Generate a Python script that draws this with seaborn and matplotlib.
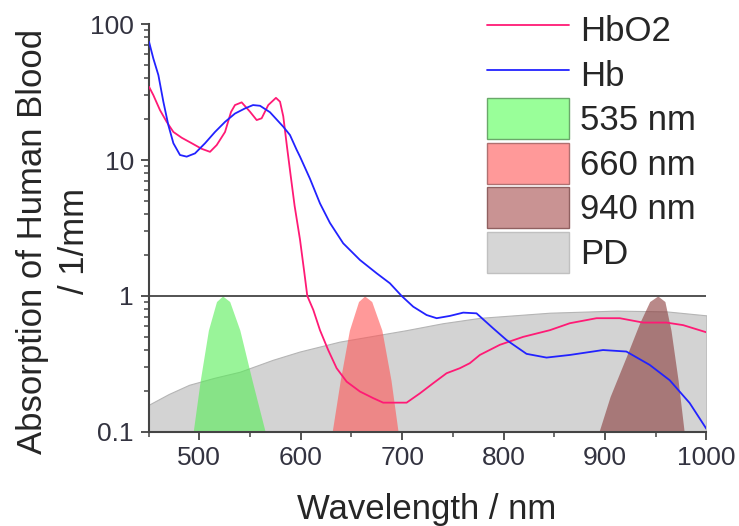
import numpy as np
import matplotlib
matplotlib.use("Agg")
import matplotlib.pyplot as plt
import seaborn as sns
from matplotlib.patches import Patch
from matplotlib.lines import Line2D
from matplotlib.ticker import LogLocator, FixedLocator, NullFormatter

# absorption of oxygenated haemoglobin (1/mm)
hbo2_nm = [450.5, 454.7, 461.3, 467.9, 474.5, 482.7, 492.6, 502.4, 510.6, 517.2,
           525.4, 531.3, 535.2, 541.8, 550, 556.6, 561.5, 568, 575.6, 579.6,
           582.8, 586.5, 590, 594, 599.3, 603.5, 606.5, 612.4, 619, 627.1,
           635.4, 645.3, 658.4, 671.5, 681.3, 704.4, 717.5, 730.6, 743.8, 756.9,
           766.7, 776.6, 796.3, 819.3, 845.6, 865.3, 891.6, 914.5, 937.5, 960.5,
           977, 1000]
hbo2_val = [34.6, 30.1, 23.3, 19.1, 16.1, 14.6, 13.3, 12.1, 11.5, 12.9,
            16.1, 22.6, 25.4, 26.6, 22.7, 19.7, 20.3, 25.4, 28.7, 26.9,
            21, 12.5, 7.8, 4.6, 2.6, 1.5, 1.0, 0.79, 0.56, 0.40,
            0.294, 0.234, 0.198, 0.177, 0.164, 0.164, 0.192, 0.228, 0.27, 0.294,
            0.32, 0.368, 0.437, 0.5, 0.56, 0.63, 0.686, 0.686, 0.637, 0.637,
            0.61, 0.54]

# absorption of deoxygenated haemoglobin (1/mm)
hb_nm = [450.5, 454.7, 459.7, 464.6, 469.5, 474.5, 481, 487.6, 495.8, 505.7,
         515.5, 525.4, 535.2, 545.1, 553, 559.9, 569.7, 582.8, 589.4, 596,
         599.3, 609.1, 619, 628.8, 641.9, 658.4, 674.8, 687.9, 699.5, 710.9,
         724.1, 734, 747, 760.2, 773.3, 789.7, 802.9, 822.6, 842.3, 865.3,
         898, 921, 944, 963.7, 983.4, 1000]
hb_val = [74.1, 56, 42.2, 26.9, 18.1, 13.3, 10.9, 10.6, 11.2, 13.3,
          16.1, 19.1, 22.0, 24, 25.4, 25.1, 22.5, 17.6, 15.3, 11.9,
          10.6, 7.3, 4.8, 3.45, 2.44, 1.84, 1.47, 1.24, 1.0, 0.834,
          0.724, 0.686, 0.713, 0.754, 0.745, 0.578, 0.474, 0.375, 0.352, 0.368,
          0.4, 0.39, 0.311, 0.24, 0.163, 0.105]

# photodiode sensitivity (relative)
pd_nm = [450, 470, 490, 515, 540, 572.5, 599, 638.2, 704, 740, 776.6, 845.5,
         911, 960.5, 1000]
pd_val = [0.158, 0.19, 0.222, 0.25, 0.277, 0.339, 0.39, 0.461, 0.56, 0.63,
          0.69, 0.753, 0.78, 0.77, 0.72]

# LED emission spectra (relative)
led535_nm = [494, 501, 509, 517, 523, 530, 540, 552, 565]
led535_val = [0.1, 0.24, 0.56, 0.91, 1.0, 0.91, 0.56, 0.24, 0.1]
led660_nm = [631, 639, 648, 657, 663, 670, 680, 689, 696]
led660_val = [0.1, 0.24, 0.56, 0.91, 1.0, 0.91, 0.56, 0.24, 0.1]
led940_nm = [894, 905, 921, 934, 944, 952, 959, 965, 972, 978]
led940_val = [0.1, 0.182, 0.358, 0.63, 0.91, 1.0, 0.91, 0.56, 0.24, 0.1]

sns.set_style("ticks")
plt.rcParams["font.family"] = ["Liberation Sans", "DejaVu Sans"]

fig = plt.figure(figsize=(7.39, 5.26), dpi=100)
ax = fig.add_axes([0.201, 0.179, 0.755, 0.775])

ax.fill_between(pd_nm, 0.1, pd_val, color="#d3d3d3", edgecolor="#b5b5b5",
                linewidth=0.8, zorder=1)
ax.fill_between(led535_nm, 0.1, led535_val, color="#55ee55", alpha=0.6,
                linewidth=0, zorder=2)
ax.fill_between(led660_nm, 0.1, led660_val, color="#ff5555", alpha=0.6,
                linewidth=0, zorder=2)
ax.fill_between(led940_nm, 0.1, led940_val, color="#8b3b3b", alpha=0.6,
                linewidth=0, zorder=2)

ax.axhline(1, color="#444444", linewidth=1.3, zorder=3)

sns.lineplot(x=hbo2_nm, y=hbo2_val, ax=ax, color="#ff1a75", linewidth=1.3,
             zorder=4)
sns.lineplot(x=hb_nm, y=hb_val, ax=ax, color="#2222ff", linewidth=1.3,
             zorder=4)

ax.set_yscale("log")
ax.set_xlim(450, 1000)
ax.set_ylim(0.1, 100)

ax.yaxis.set_major_locator(FixedLocator([0.1, 1, 10, 100]))
ax.set_yticklabels(["0.1", "1", "10", "100"])
ax.yaxis.set_minor_locator(LogLocator(base=10, subs=np.arange(2, 10)))
ax.yaxis.set_minor_formatter(NullFormatter())
ax.set_xticks([500, 600, 700, 800, 900, 1000])
ax.set_xticks([450, 550, 650, 750, 850, 950], minor=True)

ax.tick_params(axis="both", which="major", length=5.5, width=1.3,
               labelsize=19, color="#444444", labelcolor="#333340", pad=5)
ax.tick_params(axis="both", which="minor", length=3.5, width=1.1,
               color="#444444")

for side in ["top", "right"]:
    ax.spines[side].set_visible(False)
for side in ["left", "bottom"]:
    ax.spines[side].set_linewidth(1.5)
    ax.spines[side].set_color("#444444")

ax.set_xlabel("Wavelength / nm", fontsize=25, va="center")
ax.xaxis.set_label_coords(0.498, -0.19)
ax.set_ylabel("Absorption of Human Blood\n/ 1/mm", fontsize=25,
              linespacing=1.35, va="center")
ax.yaxis.set_label_coords(-0.17, 0.468)

handles = [
    Line2D([], [], color="#ff1a75", linewidth=1.3),
    Line2D([], [], color="#2222ff", linewidth=1.3),
    Patch(facecolor="#99ff99", edgecolor="#6aa86a"),
    Patch(facecolor="#ff9999", edgecolor="#b07070"),
    Patch(facecolor="#c99393", edgecolor="#906060"),
    Patch(facecolor="#d6d6d6", edgecolor="#c0c0c0"),
]
labels = ["HbO2", "Hb", "535 nm", "660 nm", "940 nm", "PD"]
fig.legend(handles, labels, loc="upper left", bbox_to_anchor=(0.659, 0.982),
           frameon=False, fontsize=25, handlelength=2.35, handleheight=1.44,
           labelspacing=0.1, handletextpad=0.33, borderpad=0, borderaxespad=0)

fig.savefig("out.png", dpi=100)
